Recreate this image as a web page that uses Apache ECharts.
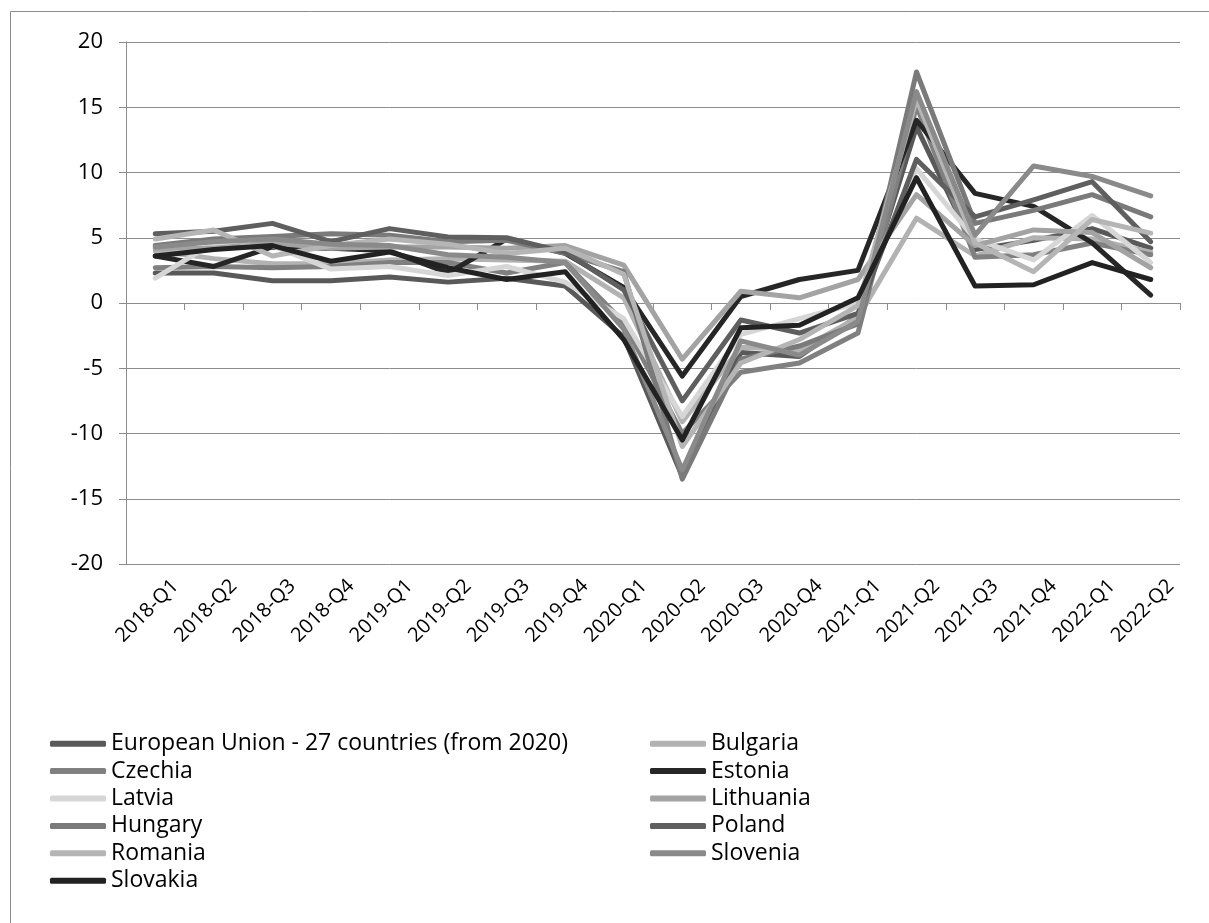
<!DOCTYPE html>
<html>
<head>
<meta charset="utf-8">
<script src="https://cdn.jsdelivr.net/npm/echarts@6/dist/echarts.min.js"></script>
<style>
  html, body { margin: 0; padding: 0; background: #ffffff; }
  #chart { width: 1209px; height: 923px; }
</style>
</head>
<body>
<div id="chart"></div>
<script>
// Quarterly growth rates, % change on the same quarter of the previous year
const quarters = ['2018-Q1','2018-Q2','2018-Q3','2018-Q4','2019-Q1','2019-Q2','2019-Q3','2019-Q4',
                  '2020-Q1','2020-Q2','2020-Q3','2020-Q4','2021-Q1','2021-Q2','2021-Q3','2021-Q4',
                  '2022-Q1','2022-Q2'];

const eu27      = [2.3, 2.3, 1.7, 1.7, 2.0, 1.6, 1.9, 1.3, -2.6, -13.3, -3.8, -4.1, -1.0, 13.5, 4.1, 4.8, 5.7, 4.2];
const bulgaria  = [4.0, 3.4, 3.0, 3.0, 3.3, 3.4, 3.3, 3.2, 0.4, -9.1, -3.4, -3.6, -1.1, 6.5, 3.6, 5.0, 4.9, 3.9];
const czechia   = [2.7, 2.8, 2.7, 2.8, 3.1, 3.1, 2.3, 3.1, -1.5, -10.0, -5.3, -4.6, -2.3, 15.1, 3.5, 3.7, 4.6, 3.7];
const estonia   = [3.6, 2.8, 4.3, 4.2, 4.0, 2.3, 4.9, 3.8, 1.2, -5.6, 0.5, 1.8, 2.5, 14.0, 8.4, 7.4, 4.6, 0.6];
const latvia    = [1.9, 4.6, 4.4, 2.6, 2.8, 2.1, 2.8, 1.6, -1.2, -8.7, -2.4, -1.2, 0.0, 10.3, 4.9, 3.3, 6.7, 3.1];
const lithuania = [4.2, 4.2, 4.6, 4.2, 4.3, 4.3, 4.2, 4.4, 2.9, -4.3, 0.9, 0.4, 1.8, 8.3, 4.4, 5.6, 5.4, 2.7];
const hungary   = [4.4, 4.9, 5.1, 5.3, 5.2, 4.7, 4.8, 3.8, 2.4, -13.5, -4.3, -3.3, -1.6, 17.7, 6.1, 7.1, 8.3, 6.6];
const poland    = [5.3, 5.5, 6.1, 4.7, 5.7, 5.05, 5.0, 3.9, 1.0, -7.5, -1.3, -2.3, -0.8, 11.0, 6.6, 7.9, 9.3, 4.7];
const romania   = [4.9, 5.6, 3.6, 4.4, 4.9, 4.5, 3.8, 4.2, 2.2, -11.0, -4.6, -2.8, -0.2, 15.6, 4.6, 2.4, 6.4, 5.35];
const slovenia  = [4.3, 4.7, 4.9, 4.5, 4.4, 3.7, 3.5, 3.1, -2.0, -12.8, -2.9, -4.0, -1.4, 16.2, 5.2, 10.5, 9.7, 8.2];
const slovakia  = [3.6, 4.1, 4.4, 3.2, 3.9, 2.7, 1.8, 2.4, -2.8, -10.5, -1.9, -1.7, 0.4, 9.6, 1.3, 1.4, 3.1, 1.8];

const seriesNames = ['European Union - 27 countries (from 2020)', 'Bulgaria', 'Czechia', 'Estonia',
                     'Latvia', 'Lithuania', 'Hungary', 'Poland', 'Romania', 'Slovenia', 'Slovakia'];
const seriesValues = [eu27, bulgaria, czechia, estonia, latvia, lithuania, hungary, poland, romania, slovenia, slovakia];
const seriesColors = ['#595959', '#b2b2b2', '#808080', '#262626', '#d6d6d6', '#a3a3a3',
                      '#7a7a7a', '#5f5f5f', '#b5b5b5', '#8a8a8a', '#222222'];

const FONT = '"Open Sans", Lato, sans-serif';
const GRID_COLOR = '#8c8c8c';

const chart = echarts.init(document.getElementById('chart'), null, { renderer: 'canvas' });

const series = seriesNames.map((name, i) => ({
  name: name,
  type: 'line',
  xAxisIndex: 0,
  yAxisIndex: 0,
  data: seriesValues[i],
  color: seriesColors[i],
  symbol: 'none',
  lineStyle: { width: 5, color: seriesColors[i], join: 'round', cap: 'round' },
  emphasis: { disabled: true },
  z: 2 + i
}));

// two legend columns, filled top to bottom
const legendLeft = [seriesNames[0], seriesNames[2], seriesNames[4], seriesNames[6], seriesNames[8], seriesNames[10]];
const legendRight = [seriesNames[1], seriesNames[3], seriesNames[5], seriesNames[7], seriesNames[9]];

const legendCommon = {
  orient: 'vertical',
  top: 725,
  padding: 5,
  itemWidth: 56,
  itemHeight: 6,
  itemGap: 0,
  icon: 'roundRect',
  selectedMode: false,
  textStyle: { fontFamily: FONT, fontSize: 23, color: '#000000', lineHeight: 27.4 }
};

chart.setOption({
  animation: false,
  backgroundColor: '#ffffff',
  graphic: [{
    type: 'rect',
    shape: { x: 10.5, y: 11.5, width: 1400, height: 1200 },
    style: { fill: 'none', stroke: GRID_COLOR, lineWidth: 1 },
    silent: true,
    z: 0
  }],
  grid: [
    { left: 126, right: 29, top: 42, bottom: 359, containLabel: false },
    // companion grid carrying only the rotated category labels
    { left: 146, right: 9, top: 42, bottom: 359, containLabel: false }
  ],
  xAxis: [{
    type: 'category',
    gridIndex: 0,
    data: quarters,
    boundaryGap: true,
    axisLine: { show: true, onZero: true, lineStyle: { color: GRID_COLOR, width: 1 } },
    axisTick: { show: true, length: 7, interval: 0, lineStyle: { color: GRID_COLOR } },
    axisLabel: { show: false },
    splitLine: { show: false }
  }, {
    type: 'category',
    gridIndex: 1,
    data: quarters,
    boundaryGap: true,
    axisLine: { show: false, onZero: false },
    axisTick: { show: false },
    axisLabel: {
      show: true, interval: 0, rotate: 45, margin: 19,
      fontFamily: FONT, fontSize: 20, color: '#000000'
    },
    splitLine: { show: false }
  }],
  yAxis: [{
    type: 'value',
    gridIndex: 0,
    min: -20,
    max: 20,
    interval: 5,
    axisLine: { show: true, lineStyle: { color: GRID_COLOR, width: 1 } },
    axisTick: { show: true, length: 7, lineStyle: { color: GRID_COLOR } },
    axisLabel: { margin: 23, fontFamily: FONT, fontSize: 22, color: '#000000' },
    splitLine: { show: true, lineStyle: { color: GRID_COLOR, width: 1 } }
  }, {
    type: 'value',
    gridIndex: 1,
    min: -20,
    max: 20,
    interval: 5,
    show: false
  }],
  legend: [
    Object.assign({}, legendCommon, { left: 45, data: legendLeft }),
    Object.assign({}, legendCommon, { left: 645, data: legendRight })
  ],
  series: series
});
</script>
</body>
</html>
